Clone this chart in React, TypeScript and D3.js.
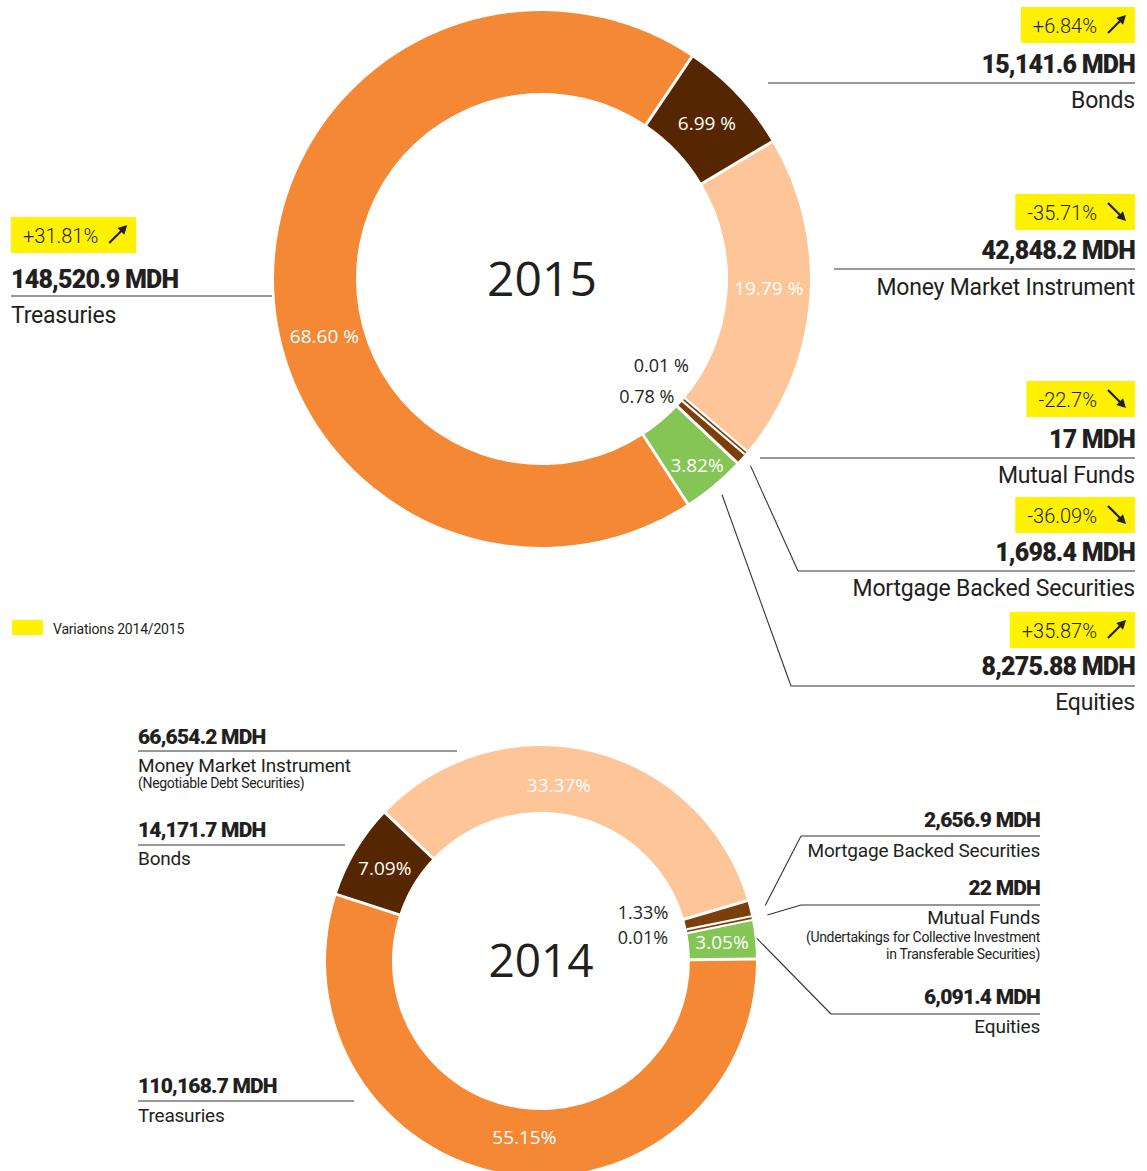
import React, { useEffect, useRef } from "react";
import * as d3 from "d3";

const W = 1147;
const H = 1171;

// 2015 portfolio in MDH, clockwise starting from the Bonds slice
const categories2015 = ["Bonds", "Money Market Instrument", "Mutual Funds", "Mortgage Backed Securities", "Equities", "Treasuries"];
const values2015 = [15141.6, 42848.2, 17, 1698.4, 8275.88, 148520.9];
const shareLabels2015 = ["6.99 %", "19.79 %", "0.01 %", "0.78 %", "3.82%", "68.60 %"];
const variations2015 = ["+6.84%", "-35.71%", "-22.7%", "-36.09%", "+35.87%", "+31.81%"];

// 2014 portfolio in MDH, clockwise starting from the Treasuries slice
const categories2014 = ["Treasuries", "Bonds", "Money Market Instrument", "Mortgage Backed Securities", "Mutual Funds", "Equities"];
const values2014 = [110168.7, 14171.7, 66654.2, 2656.9, 22, 6091.4];
const shareLabels2014 = ["55.15%", "7.09%", "33.37%", "1.33%", "0.01%", "3.05%"];

const subtitles2014: Record<string, string[]> = {
  "Money Market Instrument": ["(Negotiable Debt Securities)"],
  "Mutual Funds": ["(Undertakings for Collective Investment", "in Transferable Securities)"],
};

const legendLabel = "Variations 2014/2015";

const colorOf: Record<string, string> = {
  Treasuries: "#F48834",
  Bonds: "#552600",
  "Money Market Instrument": "#FDC598",
  "Mutual Funds": "#7B3F0C",
  "Mortgage Backed Securities": "#7B3F0C",
  Equities: "#84C556",
};

const INK = "#231F20";
const YELLOW = "#FFF100";
const FONT_TXT = "Roboto, 'Liberation Sans', Arial, sans-serif";
const FONT_PIE = "'Open Sans', 'Noto Sans', sans-serif";

const donut2015 = {
  cx: 542, cy: 279, outer: 268, inner: 186, startDeg: 34, year: "2015", yearSize: 48, pctSize: 19, darkSize: 18,
  labelPos: {
    Treasuries: { deg: 255.3, r: 225 },
    "Money Market Instrument": { deg: 92.4 },
    Equities: { r: 242 },
    "Mutual Funds": { deg: 122.4, r: 174, dark: true },
    "Mortgage Backed Securities": { deg: 133.2, r: 181.5, dark: true },
  } as Record<string, any>,
};

const donut2014 = {
  cx: 541, cy: 961, outer: 215, inner: 149, startDeg: 89.5, year: "2014", yearSize: 46, pctSize: 19, darkSize: 18,
  labelPos: {
    "Money Market Instrument": { deg: 5.8, r: 177 },
    Treasuries: { deg: 185.4, r: 177 },
    "Mortgage Backed Securities": { deg: 71.8, r: 134, dark: true },
    "Mutual Funds": { deg: 82.2, r: 128.3, dark: true },
  } as Record<string, any>,
};

// callout layout (positions only)
const callouts2015 = [
  { name: "Bonds", align: "end", x: 1135, boxTop: 7, valueY: 73, lineY: 83, lineX: 768, labelY: 108 },
  { name: "Money Market Instrument", align: "end", x: 1135, boxTop: 194, valueY: 259, lineY: 269, lineX: 834, labelY: 295 },
  { name: "Mutual Funds", align: "end", x: 1135, boxTop: 381, valueY: 448, lineY: 458, lineX: 760, labelY: 483 },
  { name: "Mortgage Backed Securities", align: "end", x: 1135, boxTop: 497, valueY: 561, lineY: 571, lineX: 798, leaderR: 280, labelY: 596 },
  { name: "Equities", align: "end", x: 1135, boxTop: 612, valueY: 675, lineY: 686, lineX: 791, leaderR: 281, labelY: 710 },
  { name: "Treasuries", align: "start", x: 11, boxTop: 217, valueY: 288, lineY: 296, lineX: 272, labelY: 323 },
];

const callouts2014 = [
  { name: "Money Market Instrument", align: "start", x: 138, valueY: 744, lineY: 751, lineX: 457, labelY: 772, subY: 788 },
  { name: "Bonds", align: "start", x: 138, valueY: 837, lineY: 845, lineX: 345, labelY: 865 },
  { name: "Treasuries", align: "start", x: 138, valueY: 1093, lineY: 1101, lineX: 354, labelY: 1122 },
  { name: "Mortgage Backed Securities", align: "end", x: 1040, valueY: 827, lineY: 836, lineX: 801, leaderR: 231, labelY: 857 },
  { name: "Mutual Funds", align: "end", x: 1040, valueY: 895, lineY: 905, lineX: 801, leaderR: 231, labelY: 924, subY: 942 },
  { name: "Equities", align: "end", x: 1040, valueY: 1004, lineY: 1014, lineX: 831, leaderR: 217, labelY: 1033 },
];

const fmt = d3.format(",");
const rad = (deg: number) => (deg * Math.PI) / 180;

function drawDonut(svg: any, cfg: any, cats: string[], vals: number[], shares: string[]) {
  const g = svg.append("g").attr("transform", `translate(${cfg.cx},${cfg.cy})`);
  const start = rad(cfg.startDeg);
  const pie = d3.pie<number>().sort(null).value(d => d).startAngle(start).endAngle(start + 2 * Math.PI);
  const arcs = pie(vals);
  const arc = d3.arc<d3.PieArcDatum<number>>().innerRadius(cfg.inner).outerRadius(cfg.outer);
  const polar = (a: number, r: number) => [r * Math.sin(a), -r * Math.cos(a)];

  g.selectAll("path.slice")
    .data(arcs)
    .join("path")
    .attr("class", "slice")
    .attr("d", arc)
    .attr("fill", (d: any, i: number) => colorOf[cats[i]]);

  // white gaps between slices
  arcs.forEach(a => {
    const [x0, y0] = polar(a.startAngle, cfg.inner - 1);
    const [x1, y1] = polar(a.startAngle, cfg.outer + 1);
    g.append("line").attr("x1", x0).attr("y1", y0).attr("x2", x1).attr("y2", y1)
      .attr("stroke", "#fff").attr("stroke-width", 3);
  });

  // slices too thin to show get a hairline of their colour
  arcs.forEach((a, i) => {
    if (a.endAngle - a.startAngle > 0.005) return;
    const m = (a.startAngle + a.endAngle) / 2;
    const [x0, y0] = polar(m, cfg.inner);
    const [x1, y1] = polar(m, cfg.outer);
    g.append("line").attr("x1", x0).attr("y1", y0).attr("x2", x1).attr("y2", y1)
      .attr("stroke", "#fff").attr("stroke-width", 6);
    g.append("line").attr("x1", x0).attr("y1", y0).attr("x2", x1).attr("y2", y1)
      .attr("stroke", colorOf[cats[i]]).attr("stroke-width", 1.6);
  });

  // share labels
  arcs.forEach((a, i) => {
    const pos = cfg.labelPos[cats[i]] || {};
    const ang = pos.deg != null ? rad(pos.deg) : (a.startAngle + a.endAngle) / 2;
    const r = pos.r != null ? pos.r : (cfg.inner + cfg.outer) / 2;
    const [x, y] = polar(ang, r);
    g.append("text")
      .attr("x", x)
      .attr("y", y)
      .attr("dy", pos.dark ? null : "0.36em")
      .attr("text-anchor", pos.dark ? "end" : "middle")
      .attr("fill", pos.dark ? INK : "#fff")
      .style("font-family", FONT_PIE)
      .style("font-size", `${pos.dark ? cfg.darkSize : cfg.pctSize}px`)
      .text(shares[i]);
  });

  g.append("text")
    .attr("text-anchor", "middle")
    .attr("dy", "0.35em")
    .attr("fill", INK)
    .style("font-family", FONT_PIE)
    .style("font-size", `${cfg.yearSize}px`)
    .text(cfg.year);

  return arcs;
}

function drawArrow(g: any, sx: number, sy: number, tx: number, ty: number) {
  const dx = tx - sx, dy = ty - sy;
  const len = Math.hypot(dx, dy);
  const ux = dx / len, uy = dy / len;
  const px = -uy, py = ux;
  g.append("line").attr("x1", sx).attr("y1", sy).attr("x2", tx - 6 * ux).attr("y2", ty - 6 * uy)
    .attr("stroke", INK).attr("stroke-width", 2.2);
  const hx = tx - 9 * ux, hy = ty - 9 * uy;
  g.append("path")
    .attr("d", `M${tx},${ty}L${hx + 4.8 * px},${hy + 4.8 * py}L${hx - 4.8 * px},${hy - 4.8 * py}Z`)
    .attr("fill", INK);
}

function drawCallouts(svg: any, layout: any[], cfg: any, cats: string[], vals: number[], arcs: any[], sizes: any,
  variations?: string[], subtitles?: Record<string, string[]>) {
  const g = svg.append("g");
  layout.forEach(c => {
    const i = cats.indexOf(c.name);
    const anchor = c.align;

    // variation badge
    if (variations && c.boxTop != null) {
      const vt = g.append("text")
        .attr("y", c.boxTop + 26)
        .attr("fill", INK)
        .style("font-family", FONT_TXT)
        .style("font-size", `${sizes.badge}px`)
        .style("font-weight", 300)
        .text(variations[i]);
      const tw = (vt.node() as SVGTextElement).getComputedTextLength();
      const bw = tw + 50;
      const bx = anchor === "end" ? c.x - bw : c.x;
      g.insert("rect", () => vt.node())
        .attr("x", bx).attr("y", c.boxTop).attr("width", bw).attr("height", 36)
        .attr("fill", YELLOW);
      vt.attr("x", bx + 12);
      const ax0 = bx + 12 + tw + 11;
      const ax1 = ax0 + 18;
      if (variations[i].startsWith("-")) drawArrow(g, ax0, c.boxTop + 9, ax1, c.boxTop + 27);
      else drawArrow(g, ax0, c.boxTop + 26, ax1, c.boxTop + 8);
    }

    g.append("text")
      .attr("x", c.x)
      .attr("y", c.valueY)
      .attr("text-anchor", anchor)
      .attr("fill", INK)
      .style("font-family", FONT_TXT)
      .style("font-size", `${sizes.value}px`)
      .style("font-weight", 900)
      .style("letter-spacing", "-0.8px")
      .text(`${fmt(vals[i])} MDH`);

    const x1 = anchor === "end" ? c.lineX : c.x;
    const x2 = anchor === "end" ? c.x : c.lineX;
    g.append("line")
      .attr("x1", x1).attr("x2", x2).attr("y1", c.lineY).attr("y2", c.lineY)
      .attr("stroke", "#333").attr("stroke-width", 1.1);

    if (c.leaderR) {
      const a = arcs[i];
      const m = (a.startAngle + a.endAngle) / 2;
      g.append("line")
        .attr("x1", c.lineX).attr("y1", c.lineY)
        .attr("x2", cfg.cx + c.leaderR * Math.sin(m))
        .attr("y2", cfg.cy - c.leaderR * Math.cos(m))
        .attr("stroke", "#333").attr("stroke-width", 1.1);
    }

    g.append("text")
      .attr("x", c.x)
      .attr("y", c.labelY)
      .attr("text-anchor", anchor)
      .attr("fill", INK)
      .style("font-family", FONT_TXT)
      .style("font-size", `${sizes.label}px`)
      .style("letter-spacing", "-0.2px")
      .text(c.name);

    const subs = subtitles ? subtitles[c.name] : null;
    if (subs) {
      subs.forEach((s, k) => {
        g.append("text")
          .attr("x", c.x)
          .attr("y", c.subY + k * 17)
          .attr("text-anchor", anchor)
          .attr("fill", INK)
          .style("font-family", FONT_TXT)
          .style("font-size", `${sizes.sub}px`)
          .style("letter-spacing", "-0.3px")
          .text(s);
      });
    }
  });
}

export default function App() {
  const svgRef = useRef<SVGSVGElement>(null);

  useEffect(() => {
    const svg = d3.select(svgRef.current);
    svg.selectAll("*").remove();

    const arcs2015 = drawDonut(svg, donut2015, categories2015, values2015, shareLabels2015);
    const arcs2014 = drawDonut(svg, donut2014, categories2014, values2014, shareLabels2014);

    drawCallouts(svg, callouts2015, donut2015, categories2015, values2015, arcs2015,
      { badge: 20, value: 25, label: 23 }, variations2015);
    drawCallouts(svg, callouts2014, donut2014, categories2014, values2014, arcs2014,
      { value: 21, label: 19, sub: 14 }, undefined, subtitles2014);

    // legend
    svg.append("rect").attr("x", 12).attr("y", 620).attr("width", 31).attr("height", 15).attr("fill", YELLOW);
    svg.append("text")
      .attr("x", 53).attr("y", 634)
      .attr("fill", INK)
      .style("font-family", FONT_TXT)
      .style("font-size", "14px")
      .style("letter-spacing", "-0.2px")
      .text(legendLabel);
  }, []);

  return (
    <svg
      ref={svgRef}
      width={W}
      height={H}
      style={{ position: "absolute", left: 0, top: 0, background: "#fff" }}
    />
  );
}
